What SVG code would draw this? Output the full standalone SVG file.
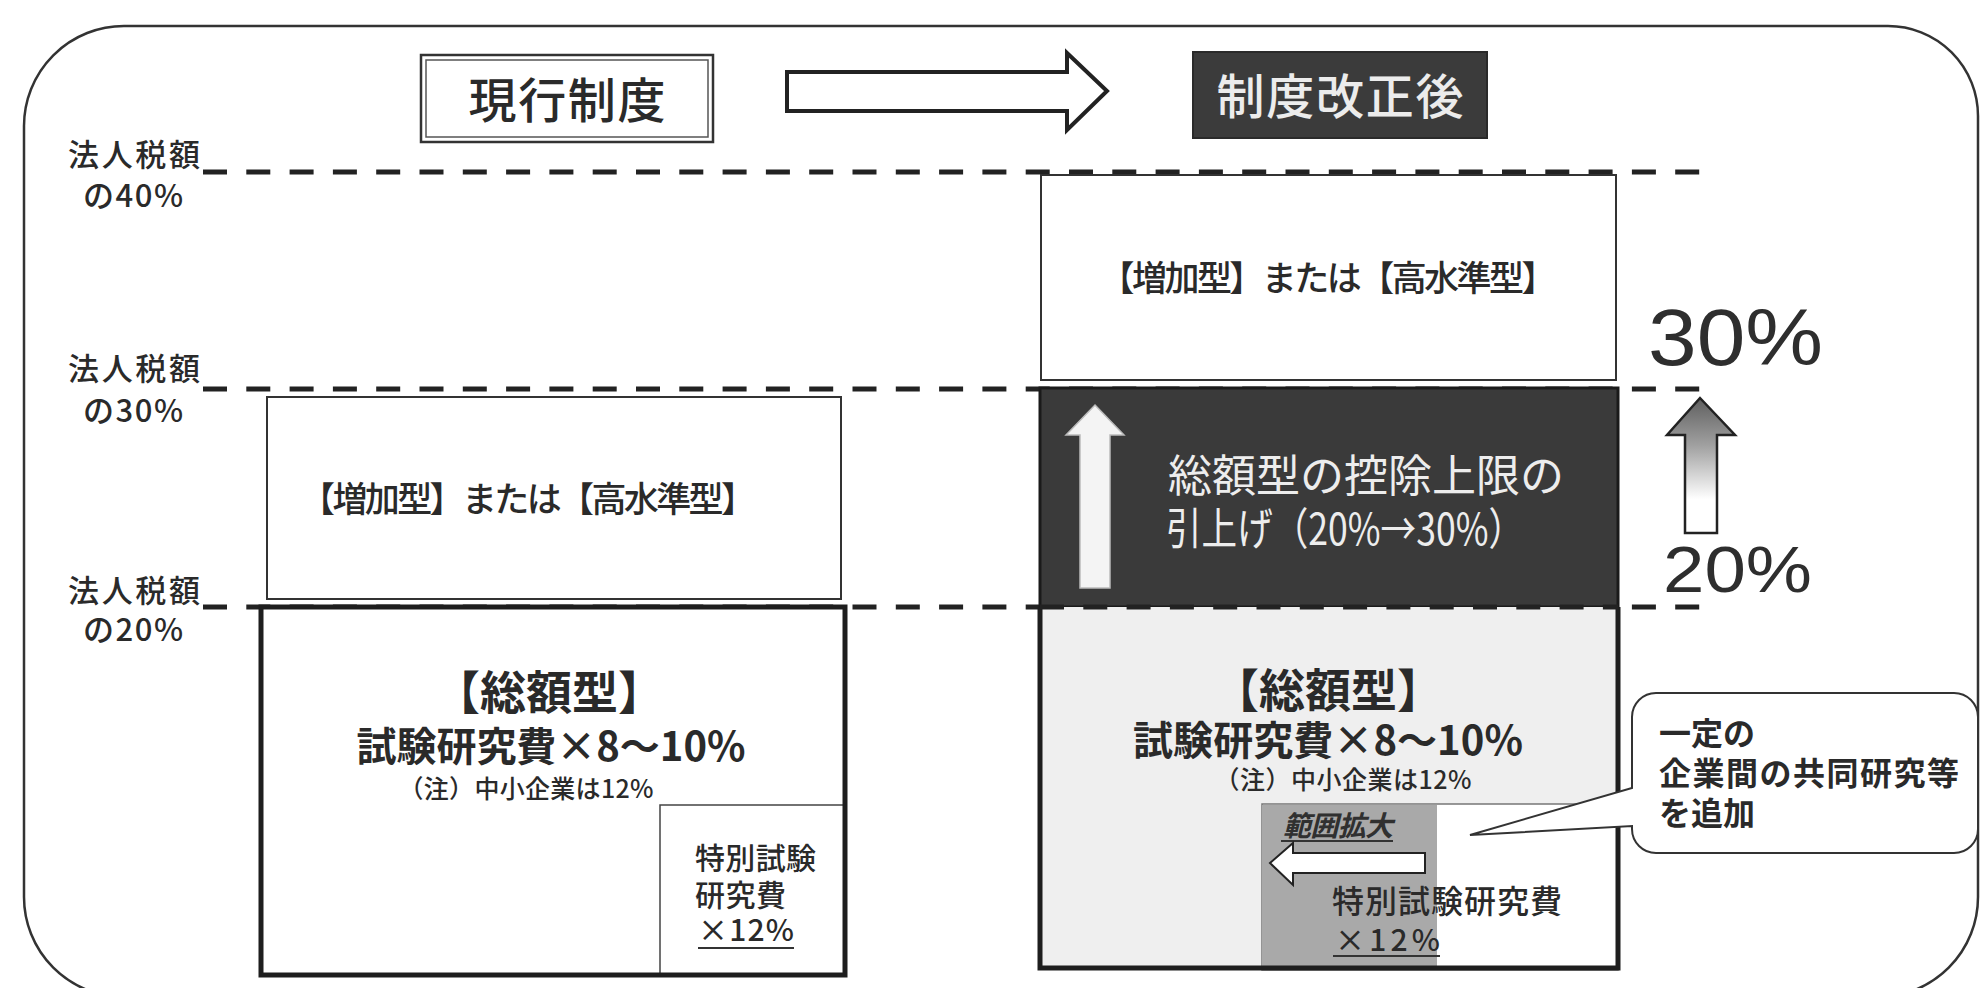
<svg xmlns="http://www.w3.org/2000/svg" width="1981" height="988" viewBox="0 0 1981 988">
<defs>
<style>
.jp{font-family:"Noto Sans CJK JP","Noto Sans",sans-serif;fill:#2a2a2a}
.num{font-family:"Liberation Sans","DejaVu Sans",sans-serif;fill:#2e2e2e}
.dash{stroke:#222;stroke-width:5;stroke-dasharray:24 19.3;fill:none}
.box{fill:#fff;stroke:#333;stroke-width:2}
.thick{fill:none;stroke:#1e1e1e;stroke-width:5}
</style>
<linearGradient id="gUp" x1="0" y1="0" x2="0" y2="1">
<stop offset="0" stop-color="#5e5e5e"/>
<stop offset="0.35" stop-color="#a0a0a0"/>
<stop offset="0.75" stop-color="#ffffff"/>
<stop offset="1" stop-color="#ffffff"/>
</linearGradient>
</defs>
<rect width="1981" height="988" fill="#fff"/>
<path d="M24,126 A100,100 0 0 1 124,26 H1888 A90,90 0 0 1 1978,116 V897 A100,100 0 0 1 1878,997 H124 A100,100 0 0 1 24,897 Z" fill="none" stroke="#333" stroke-width="2.5"/>

<g id="connectors">
<line class="dash" x1="203" y1="172" x2="1702" y2="172"/>
<line class="dash" x1="203" y1="389" x2="1702" y2="389"/>
<line class="dash" x1="203" y1="607" x2="1702" y2="607"/>
<polygon id="transition-arrow" points="787,72 1067,72 1067,53 1107,91 1067,130 1067,111 787,111" fill="#fff" stroke="#222" stroke-width="4" stroke-linejoin="miter"/>
</g>

<g id="labels-left">
<text class="jp" font-size="31" font-weight="500" x="68" y="166" textLength="132">法人税額</text>
<text class="jp" font-size="31" font-weight="500" x="83" y="207" textLength="100">の40%</text>
<text class="jp" font-size="31" font-weight="500" x="68" y="380" textLength="132">法人税額</text>
<text class="jp" font-size="31" font-weight="500" x="83" y="422" textLength="100">の30%</text>
<text class="jp" font-size="31" font-weight="500" x="68" y="602" textLength="132">法人税額</text>
<text class="jp" font-size="31" font-weight="500" x="83" y="641" textLength="100">の20%</text>
</g>

<g id="title-current">
<rect x="421" y="55" width="292" height="87" fill="#fff" stroke="#333" stroke-width="2.5"/>
<rect x="426" y="60" width="282" height="77" fill="none" stroke="#555" stroke-width="1.5"/>
<text class="jp" font-size="48" font-weight="500" x="567" y="118" text-anchor="middle" textLength="197">現行制度</text>
</g>

<g id="title-revised">
<rect x="1193" y="52" width="294" height="86" fill="#3b3b3b" stroke="#2a2a2a" stroke-width="2"/>
<text class="jp" font-size="48" font-weight="500" x="1340" y="114" text-anchor="middle" textLength="247" style="fill:#ececec">制度改正後</text>
</g>

<g id="left-incremental">
<rect class="box" x="267" y="397" width="574" height="202"/>
<text class="jp" font-size="35" font-weight="500" x="528" y="512" text-anchor="middle" textLength="456">【増加型】または【高水準型】</text>
</g>

<g id="left-total">
<rect x="261" y="607" width="584" height="368" fill="#fff"/>
<rect x="660" y="805" width="185" height="170" fill="#fff" stroke="#444" stroke-width="1.5"/>
<rect class="thick" x="261" y="607" width="584" height="368"/>
<text class="jp" font-size="46" font-weight="bold" x="549" y="709" text-anchor="middle">【総額型】</text>
<text class="jp" font-size="40" font-weight="bold" x="551" y="761" text-anchor="middle" textLength="389">試験研究費×8～10%</text>
<text class="jp" font-size="25" font-weight="500" x="526" y="798" text-anchor="middle" textLength="255">（注）中小企業は12%</text>
</g>

<g id="left-special">
<text class="jp" font-size="30" font-weight="500" x="695" y="869" textLength="121">特別試験</text>
<text class="jp" font-size="30" font-weight="500" x="695" y="906" textLength="91">研究費</text>
<text class="jp" font-size="30" font-weight="500" x="698" y="941" textLength="96">×12%</text>
<line x1="698" y1="948" x2="794" y2="948" stroke="#333" stroke-width="2"/>
</g>

<g id="right-incremental">
<rect class="box" x="1041" y="175" width="575" height="205"/>
<text class="jp" font-size="35" font-weight="500" x="1328" y="291" text-anchor="middle" textLength="457">【増加型】または【高水準型】</text>
</g>

<g id="right-raise">
<rect x="1040" y="388" width="578" height="219" fill="#3a3a3a" stroke="#1a1a1a" stroke-width="3"/>
<polygon points="1095,405 1124,435 1110,435 1110,588 1080,588 1080,435 1066,435" fill="#f4f4f4" stroke="#bbb" stroke-width="1.5"/>
<text class="jp" font-size="44" x="1168" y="492" textLength="396" style="fill:#ededed">総額型の控除上限の</text>
<text class="jp" font-size="44" x="1166" y="545" textLength="358" lengthAdjust="spacingAndGlyphs" style="fill:#ededed">引上げ（20%→30%）</text>
</g>

<g id="right-total">
<rect x="1040" y="607" width="578" height="363" fill="#efefef"/>
<rect x="1262" y="804" width="356" height="166" fill="#fff" stroke="#777" stroke-width="1.5"/>
<rect x="1262" y="805" width="175" height="163" fill="#a9a9a9"/>
<path class="thick" d="M1040,607 V968 H1618 V607"/>
<line class="dash" x1="1040" y1="607" x2="1618" y2="607"/>
<text class="jp" font-size="46" font-weight="bold" x="1328" y="707" text-anchor="middle">【総額型】</text>
<text class="jp" font-size="40" font-weight="bold" x="1328" y="755" text-anchor="middle" textLength="390">試験研究費×8～10%</text>
<text class="jp" font-size="25" font-weight="500" x="1343" y="789" text-anchor="middle" textLength="257">（注）中小企業は12%</text>
</g>

<g id="right-special">
<text class="jp" font-size="28" font-weight="bold" font-style="italic" x="1283" y="836" textLength="110" style="fill:#303030">範囲拡大</text>
<line x1="1281" y1="841" x2="1393" y2="841" stroke="#333" stroke-width="2"/>
<polygon points="1270,863 1293,843 1293,853 1425,853 1425,873 1293,873 1293,885" fill="#fff" stroke="#222" stroke-width="2"/>
<text class="jp" font-size="32" font-weight="500" x="1332" y="913" textLength="230">特別試験研究費</text>
<text class="jp" font-size="30" font-weight="500" x="1335" y="951" textLength="105">×12%</text>
<line x1="1333" y1="956" x2="1440" y2="956" stroke="#333" stroke-width="2"/>
</g>

<g id="rate-change">
<text class="num" font-size="80" x="1648" y="365" textLength="175" lengthAdjust="spacingAndGlyphs">30%</text>
<polygon points="1700,398 1735,435 1717,435 1717,533 1685,533 1685,435 1667,435" fill="url(#gUp)" stroke="#222" stroke-width="2.5"/>
<text class="num" font-size="64" x="1663" y="592" textLength="149" lengthAdjust="spacingAndGlyphs">20%</text>
</g>

<g id="callout">
<path d="M1656,693 H1954 A24,24 0 0 1 1978,717 V829 A24,24 0 0 1 1954,853 H1656 A24,24 0 0 1 1632,829 V826 L1470,835 L1632,788 V717 A24,24 0 0 1 1656,693 Z" fill="#fff" stroke="#333" stroke-width="2"/>
<text class="jp" font-size="32" font-weight="bold" x="1659" y="745">一定の</text>
<text class="jp" font-size="32" font-weight="bold" x="1659" y="785" textLength="300">企業間の共同研究等</text>
<text class="jp" font-size="32" font-weight="bold" x="1659" y="825">を追加</text>
</g>
</svg>
